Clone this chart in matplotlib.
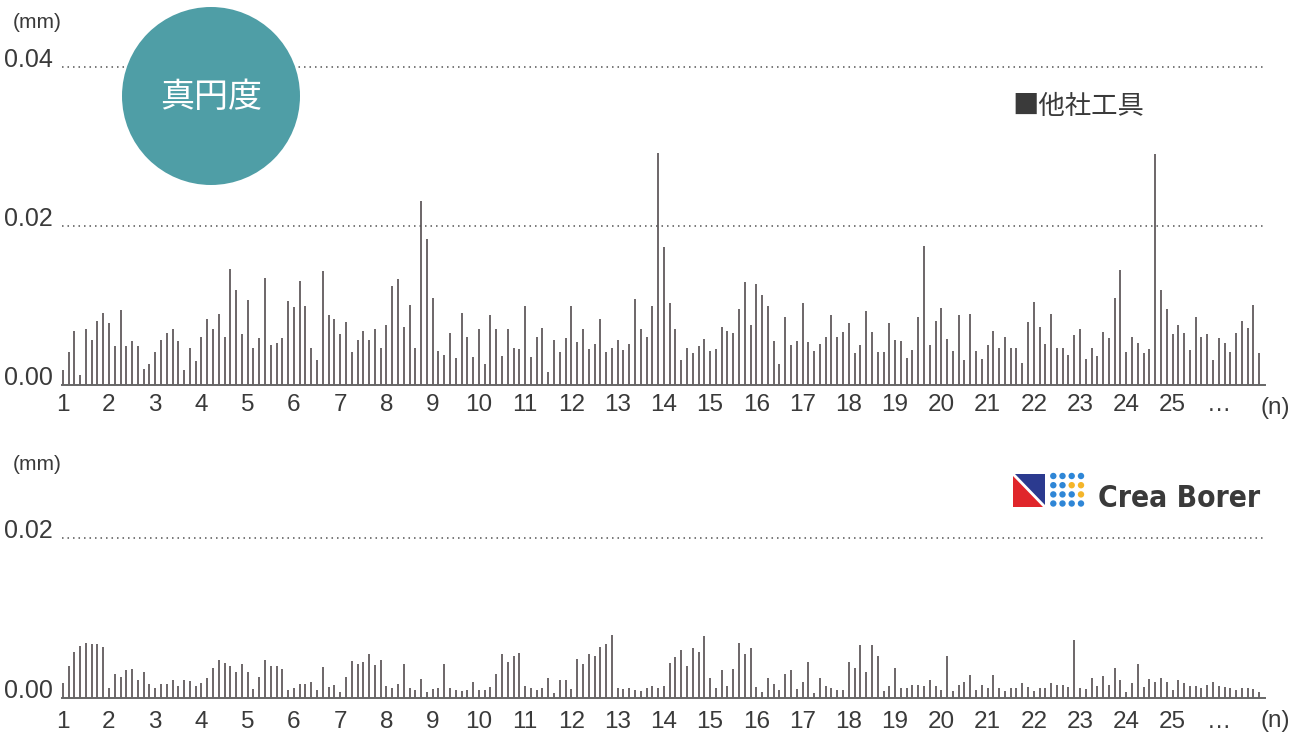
import matplotlib
matplotlib.use("Agg")
import matplotlib.pyplot as plt
import numpy as np
from matplotlib.patches import Circle, Polygon
from matplotlib import font_manager

# roundness of each bored hole, in micrometres (8 holes per x unit)
other_um = [
    1.9, 4.1, 6.8, 1.3, 7.1, 5.7, 8.1, 9.1, 7.8, 4.9, 9.4, 4.9, 5.5, 4.9, 2.0, 2.7,
    4.2, 5.6, 6.6, 7.1, 5.5, 1.9, 4.6, 3.0, 6.0, 8.3, 7.1, 8.9, 6.1, 14.6, 12.0, 6.4,
    10.7, 4.6, 5.9, 13.4, 5.0, 5.3, 5.9, 10.6, 9.8, 13.1, 9.9, 4.6, 3.1, 14.3, 8.8,
    8.3, 6.4, 7.9, 4.1, 5.7, 6.8, 5.6, 7.0, 4.6, 7.5, 12.4, 13.3, 7.3, 10.1, 4.6,
    23.1, 18.4, 10.9, 4.3, 3.8, 6.6, 3.4, 9.0, 6.1, 3.5, 7.1, 2.6, 8.8, 7.1, 3.7,
    7.0, 4.6, 4.5, 9.9, 3.5, 6.0, 7.2, 1.6, 5.6, 4.1, 5.9, 9.9, 5.4, 7.0, 4.5, 5.1,
    8.3, 4.2, 4.6, 5.6, 4.4, 5.1, 10.8, 7.0, 6.1,
    9.9, 29.2, 17.3, 10.3, 7.1, 3.1, 4.7, 4.0, 4.9, 5.8, 4.3, 4.5, 7.3, 6.8, 6.6,
    9.6, 12.9, 7.5, 12.7, 11.3, 9.9, 5.5, 2.7, 8.6, 5.0, 5.5, 10.3, 5.4, 4.3, 5.2,
    6.0, 8.8, 6.0, 6.7, 7.8, 4.0, 5.0, 9.3, 6.7, 4.1, 4.1, 7.8, 5.7, 5.5, 3.4, 4.4,
    8.5, 17.5, 5.0, 8.0, 9.7, 5.8, 4.3, 8.8, 3.2, 8.9,
    4.3, 3.3, 5.0, 6.8, 4.7, 6.0, 4.7, 4.7, 2.8, 7.9, 10.4, 7.3, 5.2, 8.9, 4.7, 4.6,
    3.8, 6.3, 7.1, 3.3, 4.7, 3.7, 6.7, 5.9, 11.0, 14.5, 4.1, 6.1, 5.3, 4.0, 4.5,
    29.1, 12.0, 9.6, 6.4, 7.5, 6.5, 4.4, 8.5, 6.0, 6.4, 3.1, 5.9, 5.3, 4.2, 6.5,
    8.1, 7.2, 10.1, 4.0,
]
crea_um = [
    1.9, 4.0, 5.7, 6.5, 6.9, 6.8, 6.7, 6.4, 1.2, 3.0, 2.6, 3.5, 3.6, 2.3, 3.3, 1.8,
    1.3, 1.8, 1.8, 2.3, 1.5, 2.3, 2.1, 1.5, 1.9, 2.5, 3.8, 4.7, 4.4, 4.0, 3.3, 4.3,
    3.3, 1.1, 2.6, 4.7, 4.0, 4.0, 3.6, 1.0, 1.3, 1.8, 1.7, 2.0, 1.0, 3.9,
    1.4, 1.6, 0.7, 2.6, 4.6, 4.3, 4.5, 5.5, 4.1, 4.8, 1.5, 1.2, 1.8, 4.2, 1.2, 1.0,
    2.4, 0.8, 1.1, 1.3, 4.2, 1.3, 1.0, 0.9, 1.0, 2.0, 1.0, 1.0, 1.4, 3.0, 5.5, 4.5,
    5.3, 5.6, 1.5, 1.3, 1.0, 1.25, 2.5, 0.6, 2.3, 2.3, 1.1, 4.9, 4.3, 5.5, 5.2, 6.4,
    6.7, 7.9, 1.3, 1.1, 1.3, 1.0,
    0.9, 1.3, 1.5, 1.2, 1.5, 4.4, 5.1, 6.0, 4.0, 6.2, 5.8, 7.8, 2.5, 1.2, 3.5, 1.5,
    3.6, 6.9, 5.5, 6.3, 1.4, 0.7, 2.5, 1.8, 1.0, 3.0, 3.5, 1.1, 2.0, 4.5, 0.6, 2.5,
    1.5, 1.2, 1.0, 1.0, 4.5, 3.8, 6.6, 3.2, 6.6, 5.3, 0.9, 1.5, 3.75, 1.2, 1.2, 1.6,
    1.6, 1.5, 2.3, 1.5, 1.0, 5.3, 0.9, 1.6,
    2.0, 2.9, 1.0, 1.6, 1.2, 2.9, 1.2, 0.9, 1.3, 1.3, 1.9, 1.4, 0.9, 1.3, 1.3, 1.9,
    1.6, 1.6, 1.4, 7.3, 1.3, 1.1, 2.5, 1.5, 2.8, 1.6, 3.75, 2.2, 0.8, 1.9, 4.25,
    1.4, 2.4, 2.0, 2.5, 2.0, 1.0, 2.2, 1.9, 1.5, 1.5, 1.3, 1.6, 2.0, 1.5, 1.4, 1.2,
    1.0, 1.3, 1.3, 1.1, 0.8,
]
x_ticks = list(range(1, 27))
x_labels = [str(n) for n in range(1, 26)] + ['…']
top_yticks = [0.00, 0.02, 0.04]
bottom_yticks = [0.00, 0.02]

W, H = 1294, 733
TXT = '#3a3a3a'
BAR = '#676163'
plt.rcParams['font.family'] = ['Liberation Sans', 'DejaVu Sans']

fig = plt.figure(figsize=(W / 100, H / 100), dpi=100)


def px_axes(left, top, right, bottom):
    return fig.add_axes([left / W, 1 - bottom / H, (right - left) / W, (bottom - top) / H])


def style(ax, vals, yticks, ymax, xpad):
    x = 1 + np.arange(len(vals)) / 8
    ax.vlines(x, 0, np.array(vals) / 1000, colors=BAR, lw=1.35)
    ax.set_xlim(0.98, 27.0)
    ax.set_ylim(0, ymax)
    for y in yticks[1:]:
        ax.axhline(y, color='#555555', ls=(0, (1, 2.6)), lw=1.1, clip_on=False)
    for s in ['top', 'right', 'left']:
        ax.spines[s].set_visible(False)
    ax.spines['bottom'].set_color('#666666')
    ax.spines['bottom'].set_linewidth(1.4)
    ax.set_xticks(x_ticks, x_labels, fontsize=17.5, color=TXT)
    ax.set_yticks(yticks, ['%.2f' % v for v in yticks], fontsize=18, color=TXT, va='baseline')
    ax.tick_params(axis='x', length=0, pad=xpad)
    ax.tick_params(axis='y', length=0, pad=6.5)
    ax.patch.set_visible(False)


top = px_axes(61.8, 67, 1265, 385)
style(top, other_um, top_yticks, 0.04, 6.4)
bot = px_axes(61.8, 538, 1265, 698)
style(bot, crea_um, bottom_yticks, 0.02, 9.2)

# decorations in pixel coordinates
deco = fig.add_axes([0, 0, 1, 1])
deco.set_xlim(0, W)
deco.set_ylim(H, 0)
deco.axis('off')

for y in [23, 465]:
    deco.text(37, y, '(mm)', fontsize=15, color=TXT, ha='center', va='center')
for y in [408, 721]:
    deco.text(1275, y, '(n)', fontsize=17.5, color=TXT, ha='center', va='center')

deco.add_patch(Circle((211, 96), 89, color='#4f9ea6', lw=0))
deco.text(211, 98, '真円度', fontsize=24.5, color='white', ha='center', va='center',
          family=['Noto Sans CJK JP', 'DejaVu Sans'])
deco.text(1012, 107, '■他社工具', fontsize=19, color=TXT, ha='left', va='center',
          family=['Noto Sans CJK JP', 'DejaVu Sans'])

# Crea Borer logo
x0, y0, x1, y1, g = 1012.7, 474, 1045, 506.7, 2.2
deco.add_patch(Polygon([(x0, y0 + g), (x0, y1), (x1 - g, y1)], color='#e0262b', lw=0))
deco.add_patch(Polygon([(x0 + g, y0), (x1, y0), (x1, y1 - g)], color='#2b3a8f', lw=0))
dot_x = [1053.3, 1062.5, 1071.7, 1081]
dot_y = [476, 485.2, 494.4, 503.5]
yellow = {(1, 2), (1, 3), (2, 3)}
for r, yy in enumerate(dot_y):
    for c, xx in enumerate(dot_x):
        col = '#f4b52a' if (r, c) in yellow else '#2f86d6'
        deco.add_patch(Circle((xx, yy), 3.2, color=col, lw=0))

fprop = None
for f in font_manager.fontManager.ttflist:
    if ('Narrow' in f.name or f.stretch in ('condensed', 'semi-condensed')) and f.weight in (700, 'bold'):
        fprop = font_manager.FontProperties(fname=f.fname)
        break
if fprop is None:
    fprop = font_manager.FontProperties(family='DejaVu Sans', weight='bold')
logo = deco.text(1098, 507, 'Crea Borer', fontproperties=fprop, fontsize=31, color='#3a3a3a',
                 ha='left', va='baseline')
r = fig.canvas.get_renderer()
w = logo.get_window_extent(r).width
if w > 162:
    logo.set_fontsize(31 * 162 / w)

fig.savefig('out.png', dpi=100)
